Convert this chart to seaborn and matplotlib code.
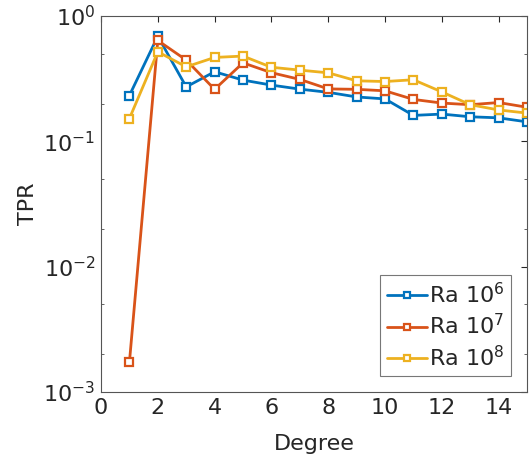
import numpy as np
import pandas as pd
import matplotlib
matplotlib.use("Agg")
import matplotlib.pyplot as plt
import seaborn as sns

degree = list(range(1, 16))
tpr_ra6 = [0.232, 0.69, 0.272, 0.359, 0.308, 0.281, 0.261, 0.246, 0.226, 0.218,
           0.161, 0.165, 0.157, 0.154, 0.143]
tpr_ra7 = [0.00172, 0.638, 0.445, 0.260, 0.423, 0.353, 0.312, 0.262, 0.260, 0.253,
           0.216, 0.202, 0.196, 0.204, 0.187]
tpr_ra8 = [0.152, 0.518, 0.393, 0.467, 0.479, 0.390, 0.370, 0.352, 0.304, 0.300,
           0.310, 0.248, 0.196, 0.178, 0.168]
series_labels = [r"Ra $10^6$", r"Ra $10^7$", r"Ra $10^8$"]
series_colors = ["#0072BD", "#D95319", "#EDB120"]
x_ticks = [0, 2, 4, 6, 8, 10, 12, 14]

sns.set_style("white")
plt.rcParams["font.family"] = ["DejaVu Sans"]
plt.rcParams["mathtext.default"] = "regular"

fig = plt.figure(figsize=(5.30, 4.63), dpi=100)
ax = fig.add_axes([101 / 530, 1 - 392 / 463, (527 - 101) / 530, (392 - 16) / 463])

for vals, lab, col in zip([tpr_ra6, tpr_ra7, tpr_ra8], series_labels, series_colors):
    sns.lineplot(x=degree, y=vals, color=col, label=lab, ax=ax,
                 linestyle="-", linewidth=2.0, marker="s", markersize=5.5,
                 markerfacecolor="white", markeredgecolor=col,
                 markeredgewidth=1.6)

ax.set_yscale("log")
ax.set_ylim(1e-3, 1)
ax.set_xlim(0, 15)
ax.set_xticks(x_ticks)
ax.set_yticks([1e-3, 1e-2, 1e-1, 1])
ax.set_yticklabels([r"$10^{-3}$", r"$10^{-2}$", r"$10^{-1}$", r"$10^{0}$"])
ax.tick_params(axis="both", which="major", direction="in", length=4, width=0.8,
               labelsize=16, colors="#262626", top=True, right=True, pad=4)
ax.tick_params(axis="y", which="minor", direction="in", length=2, width=0.5,
               left=True, right=True)
ax.yaxis.set_minor_locator(matplotlib.ticker.LogLocator(base=10, subs=[2, 5], numticks=20))
ax.yaxis.set_minor_formatter(matplotlib.ticker.NullFormatter())
for s in ax.spines.values():
    s.set_color("#555555")
    s.set_linewidth(0.8)

ax.set_xlabel("Degree", fontsize=16, color="#262626", labelpad=12)
ax.set_ylabel("TPR", fontsize=16, color="#262626", labelpad=4)

leg = ax.legend(loc="lower right", fontsize=16, frameon=True, fancybox=False,
                handlelength=1.8, handletextpad=0.1, borderpad=0.3,
                labelspacing=0.28, borderaxespad=0.7)
leg.get_frame().set_edgecolor("#555555")
leg.get_frame().set_linewidth(0.8)
for h in leg.legend_handles:
    h.set_markersize(4.5)

fig.savefig("out.png", dpi=100)
